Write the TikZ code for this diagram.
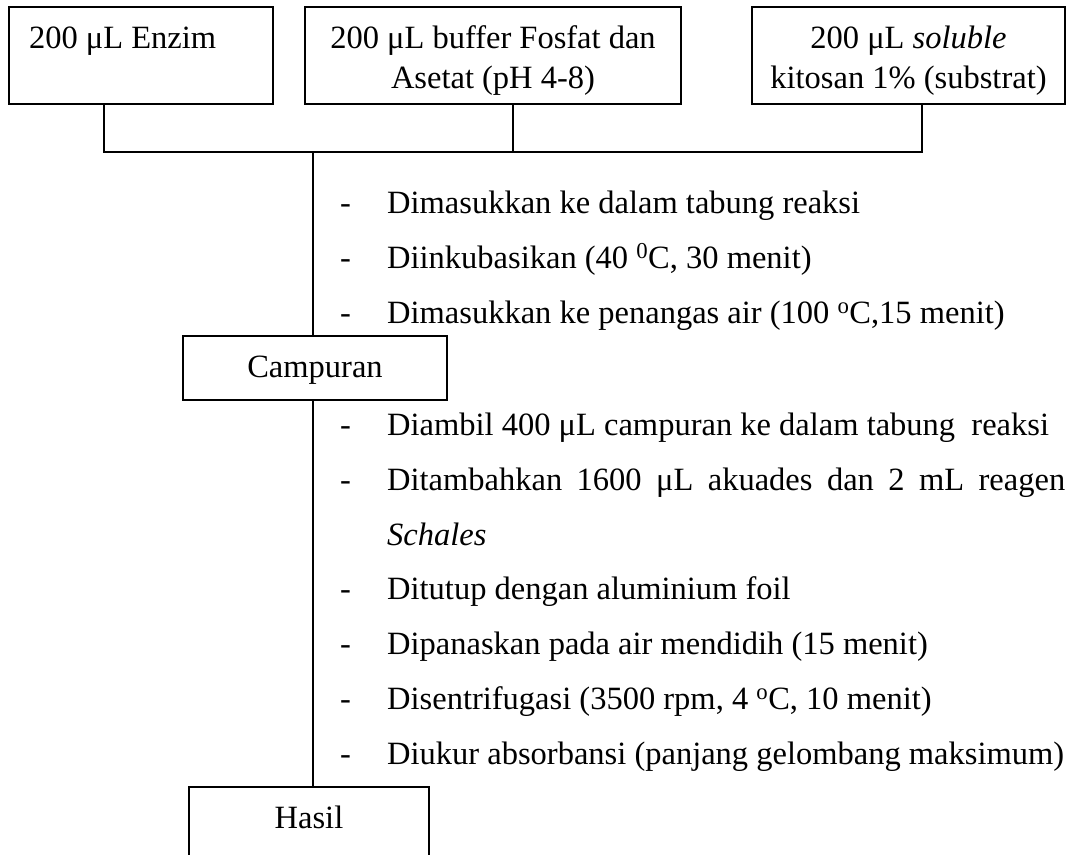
\documentclass[tikz,border=0pt]{standalone}
\usepackage{fontspec}
\setmainfont{Liberation Serif}
\tikzset{
  kotak/.style={draw, line width=1.7pt, inner xsep=10pt, inner ysep=0pt},
  bahan/.style={kotak, text height=41pt, text depth=56pt, anchor=base},
  garis/.style={line width=1.7pt},
  langkah/.style={anchor=base west, inner sep=0pt},
}
\newcommand{\strip}{\llap{\makebox[47pt][l]{-}}}

\begin{document}
\begin{tikzpicture}[x=1pt, y=-1pt, font=\fontsize{32.5}{40}\selectfont]
  \useasboundingbox (0,0) rectangle (1075,854);
  \clip (0,0) rectangle (1075,854);
  % bahan awal
  \node[bahan, inner xsep=20pt] (enzim) at (141,48) {\parbox[t]{224pt}{200 μL Enzim}};
  \node[bahan] (buffer) at (493,48) {\parbox[t]{356pt}{\centering 200 μL buffer Fosfat dan\\ Asetat (pH 4-8)}};
  \node[bahan] (substrat) at (908.5,48) {\parbox[t]{293pt}{\centering 200 μL \textit{soluble}\\ kitosan 1\% (substrat)}};
  % hasil antara dan akhir
  \node[kotak, text height=41pt, text depth=23pt, minimum width=264pt, anchor=base] (campuran) at (315,377) {Campuran};
  \node[kotak, text height=41pt, text depth=80pt, minimum width=240pt, anchor=base] (hasil) at (309,828) {Hasil};
  \coordinate (temu) at (313,152);
  \begin{scope}[garis]
    \draw ([xshift=-37pt]enzim.south) |- (temu) -| ([xshift=13.5pt]substrat.south);
    \draw ([xshift=20pt]buffer.south) -- ([xshift=20pt]buffer.south |- temu);
    \draw (temu) -- ([xshift=-2pt]campuran.north);
    \draw ([xshift=-2pt]campuran.south) -- ([xshift=4pt]hasil.north);
  \end{scope}
  % perlakuan
  \node[langkah] (l1) at (387,213) {\strip Dimasukkan ke dalam tabung reaksi};
  \node[langkah] (l2) at (387,268) {\strip Diinkubasikan (40 \textsuperscript{0}C, 30 menit)};
  \node[langkah] (l3) at (387,323) {\strip Dimasukkan ke penangas air (100 \textsuperscript{o}C,15 menit)};
  \node[langkah] (l4) at (387,435) {\strip Diambil 400 μL campuran ke dalam tabung\ \ reaksi};
  \node[langkah] (l5) at (387,490) {\strip\parbox[t]{678pt}{\fontsize{32.5}{55}\selectfont Ditambahkan 1600 μL akuades dan 2 mL reagen\linebreak \textit{Schales}}};
  \node[langkah] (l6) at (387,599) {\strip Ditutup dengan aluminium foil};
  \node[langkah] (l7) at (387,654) {\strip Dipanaskan pada air mendidih (15 menit)};
  \node[langkah] (l8) at (387,709) {\strip Disentrifugasi (3500 rpm, 4 \textsuperscript{o}C, 10 menit)};
  \node[langkah] (l9) at (387,764) {\strip Diukur absorbansi (panjang gelombang maksimum)};
\end{tikzpicture}
\end{document}
